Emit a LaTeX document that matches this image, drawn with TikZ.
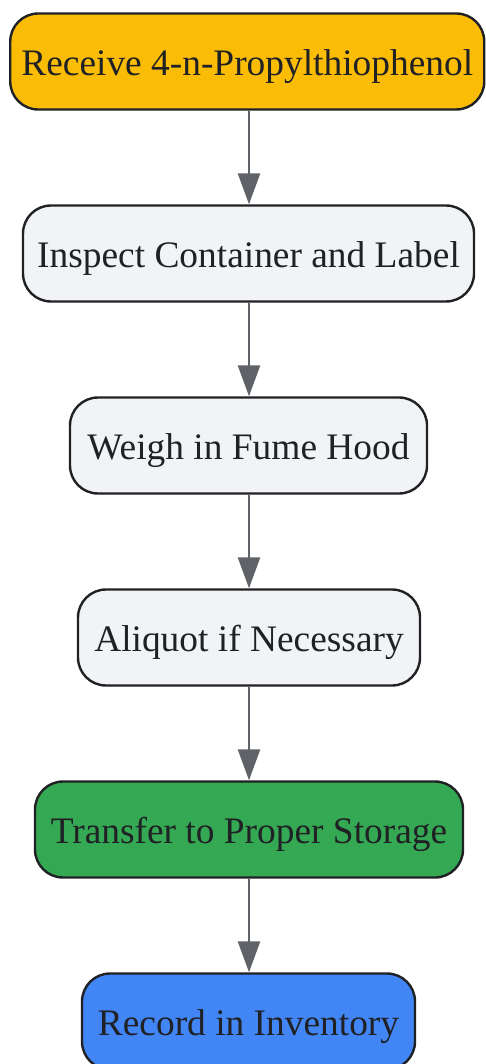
\documentclass[tikz,border=0pt]{standalone}
\usepackage{fontspec}
\setmainfont{Liberation Serif}
\usetikzlibrary{arrows.meta}
\definecolor{cYellow}{HTML}{FBBC05}
\definecolor{cGray}{HTML}{F1F3F4}
\definecolor{cGreen}{HTML}{34A853}
\definecolor{cBlue}{HTML}{4285F4}
\definecolor{cText}{HTML}{202124}
\definecolor{cEdge}{HTML}{5F6368}
\begin{document}
\begin{tikzpicture}[x=1pt,y=1pt,
  stepbox/.style={draw=cText, line width=2.4pt, rounded corners=28pt, minimum height=96pt,
    inner xsep=0pt, text height=32pt, text depth=4.6pt, text=cText,
    font=\fontsize{37.4pt}{41pt}\selectfont, fill=cGray},
  flow/.style={draw=cEdge, line width=2.6pt, -{Triangle[length=31pt,width=22pt]}}]
\useasboundingbox (0,0) rectangle (486,-1064);
\node[stepbox, fill=cYellow, minimum width=474pt] (n1) at (247.25,-61.5) {Receive 4-n-Propylthiophenol};
\node[stepbox, minimum width=451pt] (n2) at (248.5,-253.5) {Inspect Container and Label};
\node[stepbox, minimum width=357pt] (n3) at (248.5,-445.5) {Weigh in Fume Hood};
\node[stepbox, minimum width=342pt] (n4) at (249,-637.5) {Aliquot if Necessary};
\node[stepbox, fill=cGreen, minimum width=428pt] (n5) at (249,-829.5) {Transfer to Proper Storage};
\node[stepbox, fill=cBlue, minimum width=333pt] (n6) at (248.5,-1021.5) {Record in Inventory};
\draw[flow] (n1.south -| 249,0) -- (n2.north -| 249,0);
\draw[flow] (n2.south -| 249,0) -- (n3.north -| 249,0);
\draw[flow] (n3.south -| 249,0) -- (n4.north -| 249,0);
\draw[flow] (n4.south -| 249,0) -- (n5.north -| 249,0);
\draw[flow] (n5.south -| 249,0) -- (n6.north -| 249,0);
\end{tikzpicture}
\end{document}
